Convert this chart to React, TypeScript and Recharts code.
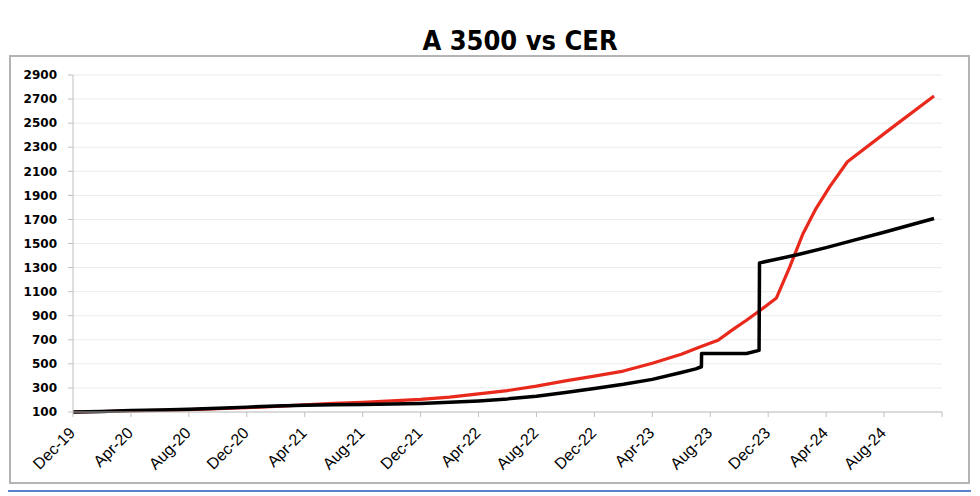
import React from 'react';
import { LineChart, Line, XAxis, YAxis, CartesianGrid } from 'recharts';

// x positions are months elapsed since the Dec-19 tick
const xTickPositions = [0, 4, 8, 12, 16, 20, 24, 28, 32, 36, 40, 44, 48, 52, 56, 60];
const xTickLabels = ['Dec-19', 'Apr-20', 'Aug-20', 'Dec-20', 'Apr-21', 'Aug-21', 'Dec-21', 'Apr-22', 'Aug-22', 'Dec-22', 'Apr-23', 'Aug-23', 'Dec-23', 'Apr-24', 'Aug-24', ''];
const yTicks = [100, 300, 500, 700, 900, 1100, 1300, 1500, 1700, 1900, 2100, 2300, 2500, 2700, 2900];

// CER (red)
const cerMonths = [0, 2, 4, 6, 8, 10, 12, 14, 16, 18, 20, 22, 24, 26, 28, 30, 32, 34, 36, 38, 40, 42, 43.28, 44.54, 45.5, 46.5, 47.5, 48.57, 49.49, 50.41, 51.3, 52.24, 53.47, 56.62, 59.45];
const cerValues = [100, 104, 109, 113, 119, 127, 136, 147, 160, 171, 181, 193, 205, 223, 250, 278, 315, 358, 398, 440, 505, 580, 640, 696, 780, 862, 950, 1048, 1306, 1584, 1790, 1971, 2179, 2469, 2725];

// A 3500 (black)
const a3500Months = [0, 2, 4, 6, 8, 10, 12, 14, 16, 18, 20, 22, 24, 26, 28, 30, 32, 34, 36, 38, 40, 42, 43, 43.39, 43.4, 46.5, 47.37, 47.4, 48, 50, 52, 54, 56, 58, 59.45];
const a3500Values = [100, 104, 111.6, 117.6, 123.8, 130.8, 140.5, 150, 156.4, 159.8, 163.1, 166.5, 171.5, 180, 192.2, 209, 231.6, 262, 295.7, 330, 371, 428.6, 458.3, 476, 586, 586, 612, 1339, 1354, 1406, 1466, 1530, 1594, 1660, 1708];

const cerData = cerMonths.map((m, i) => ({ m, v: cerValues[i] }));
const a3500Data = a3500Months.map((m, i) => ({ m, v: a3500Values[i] }));

const XTick = (props: any) => {
  const { x, y, payload } = props;
  const idx = xTickPositions.indexOf(payload.value);
  const label = idx >= 0 ? xTickLabels[idx] : '';
  const ax = x + 3;
  const ay = y + 15;
  return (
    <text
      x={ax}
      y={ay}
      textAnchor="end"
      transform={`rotate(-45, ${ax}, ${ay})`}
      fontFamily="'Liberation Sans', Arial, sans-serif"
      fontSize={16}
      fill="#000"
    >
      {label}
    </text>
  );
};

export default function App() {
  return (
    <div style={{ position: 'fixed', left: 0, top: 0, width: 980, height: 496, background: '#fff', overflow: 'hidden' }}>
      <div
        style={{
          position: 'absolute',
          left: 0,
          top: 26,
          width: 1040,
          textAlign: 'center',
          fontFamily: "'DejaVu Sans Condensed', 'DejaVu Sans', sans-serif",
          fontStretch: 'condensed',
          fontWeight: 'bold',
          fontSize: 27,
          lineHeight: '30px',
          color: '#000',
        }}
      >
        A 3500 vs CER
      </div>
      <div style={{ position: 'absolute', left: 0, top: 0 }}>
        <LineChart width={980} height={496} margin={{ top: 75, right: 38, bottom: 24, left: 13 }}>
          <CartesianGrid horizontal={true} vertical={false} stroke="#ebebeb" strokeWidth={1} />
          <XAxis
            dataKey="m"
            type="number"
            domain={[0, 60]}
            ticks={xTickPositions}
            allowDataOverflow
            interval={0}
            height={60}
            tick={<XTick />}
            tickSize={5}
            axisLine={{ stroke: '#bfbfbf' }}
            tickLine={{ stroke: '#bfbfbf' }}
          />
          <YAxis
            type="number"
            domain={[100, 2900]}
            ticks={yTicks}
            interval={0}
            width={60}
            tickSize={5}
            tickMargin={11}
            axisLine={{ stroke: '#bfbfbf' }}
            tickLine={{ stroke: '#bfbfbf' }}
            tick={{ fontFamily: "'DejaVu Sans', sans-serif", fontWeight: 'bold', fontSize: 12, fill: '#000' }}
          />
          <Line
            data={cerData}
            dataKey="v"
            type="linear"
            stroke="#e8291c"
            strokeWidth={3.2}
            dot={false}
            strokeLinejoin="round"
            isAnimationActive={false}
          />
          <Line
            data={a3500Data}
            dataKey="v"
            type="linear"
            stroke="#000000"
            strokeWidth={3.5}
            dot={false}
            strokeLinejoin="round"
            isAnimationActive={false}
          />
        </LineChart>
      </div>
      <div
        style={{
          position: 'absolute',
          left: 9,
          top: 55,
          width: 961,
          height: 429,
          boxSizing: 'border-box',
          border: '2px solid #b4b4b4',
          zIndex: 10,
          pointerEvents: 'none',
        }}
      />
      <div
        style={{
          position: 'absolute',
          left: 8,
          top: 490,
          width: 963,
          height: 2,
          background: '#5b80cc',
          zIndex: 10,
        }}
      />
    </div>
  );
}
